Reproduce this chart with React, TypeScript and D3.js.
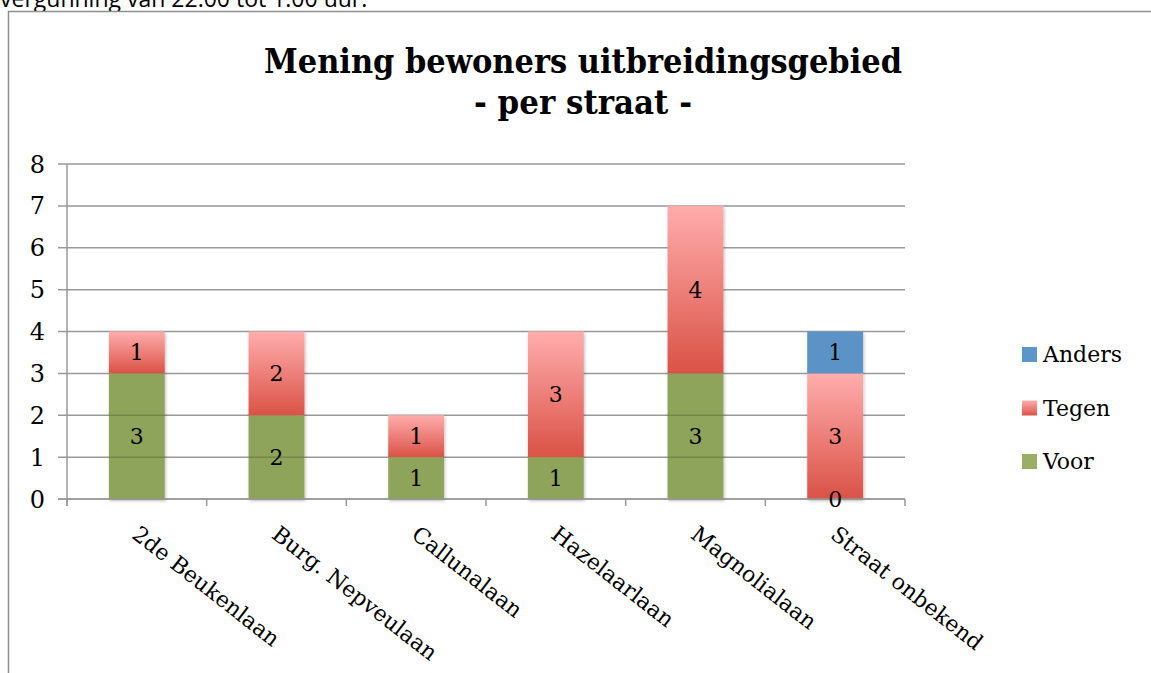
import React from "react";
import * as d3 from "d3";

const categories = ["2de Beukenlaan", "Burg. Nepveulaan", "Callunalaan", "Hazelaarlaan", "Magnolialaan", "Straat onbekend"];
const voor = [3, 2, 1, 1, 3, 0];
const tegen = [1, 2, 1, 3, 4, 3];
const anders = [0, 0, 0, 0, 0, 1];
const yTicks = [0, 1, 2, 3, 4, 5, 6, 7, 8];
const seriesNames = ["Voor", "Tegen", "Anders"];
const titleLines = ["Mening bewoners uitbreidingsgebied", "- per straat -"];
const topText = "vergunning van 22.00 tot 1.00 uur.";

const W = 1151, H = 673;
const left = 67, right = 905, top = 164, bottom = 499;
const serif = "'DejaVu Serif', 'Liberation Serif', serif";

export default function App() {
  const x = d3.scaleBand<string>().domain(categories).range([left, right]).paddingInner(0).paddingOuter(0);
  const y = d3.scaleLinear().domain([0, 8]).range([bottom, top]);
  const bw = x.bandwidth() * 0.4;
  const rows = categories.map((c, i) => ({ c, Voor: voor[i], Tegen: tegen[i], Anders: anders[i] }));
  const stack = d3.stack<any>().keys(seriesNames)(rows);
  const fills: Record<string, string> = { Voor: "#8EA45A", Tegen: "url(#redGrad)", Anders: "#5C93C7" };
  const legendFills: Record<string, string> = { Voor: "#9AAF65", Tegen: "url(#redGrad)", Anders: "#5B95CA" };
  const bounds = categories.map((c) => x(c)!).concat([right]);

  return (
    <svg width={W} height={H} style={{ position: "absolute", left: 0, top: 0, background: "#fff" }}>
      <defs>
        <linearGradient id="redGrad" x1="0" y1="0" x2="0" y2="1">
          <stop offset="0" stopColor="#FFADAD" />
          <stop offset="1" stopColor="#DA5246" />
        </linearGradient>
        <filter id="shadow" x="-20%" y="-5%" width="140%" height="115%">
          <feDropShadow dx="1" dy="2" stdDeviation="1.5" floodColor="#000" floodOpacity="0.25" />
        </filter>
      </defs>
      <text x={0} y={7} fontFamily="'Open Sans', sans-serif" fontSize={23} fill="#000">{topText}</text>
      <rect x={8.5} y={11.5} width={W} height={H} fill="#fff" stroke="#8f8f8f" strokeWidth={1.5} />
      {titleLines.map((t, i) => (
        <text key={t} x={583} y={73 + i * 41} textAnchor="middle" fontFamily={serif} fontWeight="bold" fontSize={33}
          textLength={i === 0 ? 638 : 218} lengthAdjust="spacingAndGlyphs">{t}</text>
      ))}
      {yTicks.map((t) => (
        <line key={"g" + t} x1={58} x2={right} y1={y(t)} y2={y(t)} stroke="#999" strokeWidth={1.5} />
      ))}
      {yTicks.map((t) => (
        <text key={"yt" + t} x={45} y={y(t) + 8.5} textAnchor="end" fontFamily={serif} fontSize={24}>{t}</text>
      ))}
      <g filter="url(#shadow)">
        {stack.map((s) =>
          s.map((d, i) => {
            const h = y(d[0]) - y(d[1]);
            if (h <= 0) return null;
            return (
              <rect key={s.key + i} x={x(categories[i])! + (x.bandwidth() - bw) / 2} y={y(d[1])} width={bw} height={h}
                fill={fills[s.key]} />
            );
          })
        )}
      </g>
      {stack[0].map((d, i) =>
        yTicks.filter((t) => t > d[0] && t < d[1]).map((t) => (
          <line key={"gg" + i + t} x1={x(categories[i])! + (x.bandwidth() - bw) / 2} x2={x(categories[i])! + (x.bandwidth() + bw) / 2}
            y1={y(t)} y2={y(t)} stroke="#000" strokeOpacity={0.18} strokeWidth={1.5} />
        ))
      )}
      <line x1={left} x2={left} y1={top} y2={506} stroke="#999" strokeWidth={1.5} />
      <line x1={58} x2={right} y1={bottom} y2={bottom} stroke="#999" strokeWidth={1.5} />
      {bounds.map((b, i) => (
        <line key={"xt" + i} x1={b} x2={b} y1={bottom} y2={506} stroke="#999" strokeWidth={1.5} />
      ))}
      {stack.map((s) =>
        s.map((d, i) => {
          const v = d[1] - d[0];
          if (s.key !== "Voor" && v === 0) return null;
          const cy = (y(d[0]) + y(d[1])) / 2;
          return (
            <text key={"l" + s.key + i} x={x(categories[i])! + x.bandwidth() / 2} y={cy + 8} textAnchor="middle"
              fontFamily={serif} fontSize={22}>{v}</text>
          );
        })
      )}
      {categories.map((c) => (
        <text key={"xl" + c} transform={`translate(${x(c)! + x.bandwidth() / 2 - 6},${537}) rotate(38)`}
          fontFamily={serif} fontSize={22}>{c}</text>
      ))}
      {["Anders", "Tegen", "Voor"].map((k, i) => (
        <g key={"lg" + k} transform={`translate(1022,${347 + i * 53.5})`}>
          <rect x={0} y={0} width={15} height={15} fill={legendFills[k]} />
          <text x={21} y={15} fontFamily={serif} fontSize={22}>{k}</text>
        </g>
      ))}
    </svg>
  );
}
